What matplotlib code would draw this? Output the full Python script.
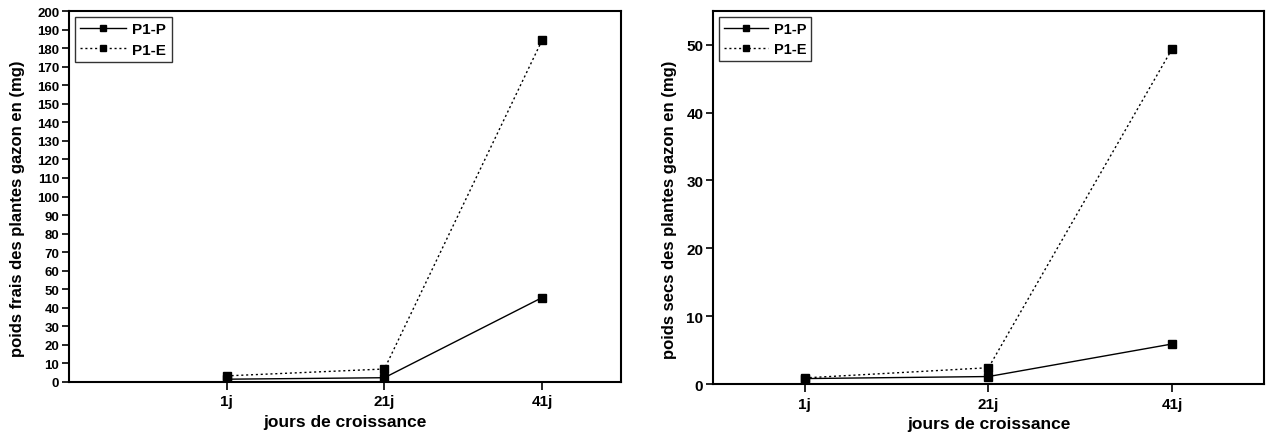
import matplotlib
matplotlib.use("Agg")
import matplotlib.pyplot as plt
import numpy as np

plt.rcParams['font.family'] = ['Liberation Sans', 'DejaVu Sans']
plt.rcParams['font.weight'] = 'bold'

categories = ["1j", "21j", "41j"]
frais_p1p = [1.5, 2.3, 45.5]
frais_p1e = [3.3, 7.0, 184.3]
secs_p1p = [0.8, 1.1, 5.9]
secs_p1e = [0.9, 2.4, 49.4]

fig = plt.figure(figsize=(12.66, 4.39), dpi=100)
ax1 = fig.add_axes([0.0545, 0.1276, 0.436, 0.845])
ax2 = fig.add_axes([0.5632, 0.123, 0.4352, 0.85])

x = np.arange(len(categories))

def style(ax, p, e, ylim, yticks, ytick_fs, ylabel, xlim, leg_fs, ylab_x):
    ax.plot(x, p, color='black', lw=1.0, ls='-', marker='s', ms=5.5, label='P1-P')
    ax.plot(x, e, color='black', lw=1.0, ls=(0, (1.5, 2)), marker='s', ms=5.5, label='P1-E')
    ax.set_xlim(*xlim)
    ax.set_ylim(*ylim)
    ax.set_yticks(yticks)
    ax.set_xticks(x)
    ax.set_xticklabels(categories)
    ax.tick_params(axis='y', direction='out', length=5, width=1.2, labelsize=ytick_fs, pad=2)
    ax.tick_params(axis='x', direction='out', length=6, width=1.2, labelsize=11, pad=3)
    for spine in ax.spines.values():
        spine.set_linewidth(1.5)
    ax.set_xlabel("jours de croissance", fontsize=12.5, fontweight='bold', labelpad=4)
    ax.set_ylabel(ylabel, fontsize=12, fontweight='bold')
    ax.yaxis.set_label_coords(ylab_x, 0.47)
    leg = ax.legend(loc='upper left', fontsize=leg_fs, numpoints=1, handlelength=3.0,
                    frameon=True, fancybox=False, edgecolor='black', borderaxespad=0.4,
                    borderpad=0.35, labelspacing=0.4, handletextpad=0.4, markerscale=0.9)
    leg.get_frame().set_linewidth(1.0)
    for t in leg.get_texts():
        t.set_fontweight('bold')

style(ax1, frais_p1p, frais_p1e, (0, 200), np.arange(0, 201, 10), 9.5,
      "poids frais des plantes gazon en (mg)", (-1.0, 2.5), 11, (25 - 69) / 552)
style(ax2, secs_p1p, secs_p1e, (0, 55), np.arange(0, 51, 10), 11,
      "poids secs des plantes gazon en (mg)", (-0.5, 2.5), 10.5, (677 - 713) / 551)

fig.savefig("out.png", dpi=100)
